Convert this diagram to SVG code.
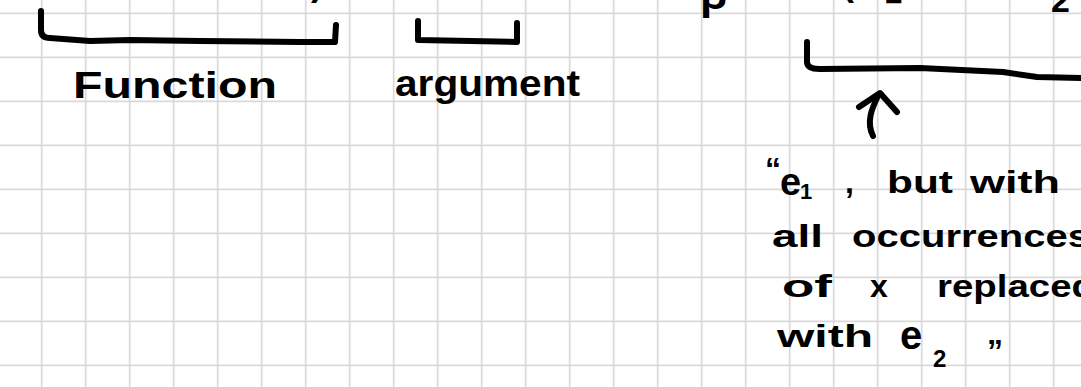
<svg xmlns="http://www.w3.org/2000/svg" width="1081" height="387" viewBox="0 0 1081 387">
<style>
.grid{stroke:#d9d9d9;stroke-width:1.7;fill:none}
.ink{stroke:#000;stroke-width:6;fill:none;stroke-linecap:round;stroke-linejoin:round}
.hw{font-family:"Liberation Sans",Arial,sans-serif;font-weight:bold;fill:#000}
</style>
<rect width="1081" height="387" fill="#fff"/>
<path class="grid" d="M41.7 0V387M85.7 0V387M129.7 0V387M173.7 0V387M217.7 0V387M261.7 0V387M305.7 0V387M349.7 0V387M393.7 0V387M437.7 0V387M481.7 0V387M525.7 0V387M569.7 0V387M613.7 0V387M657.7 0V387M701.7 0V387M745.7 0V387M789.7 0V387M833.7 0V387M877.7 0V387M921.7 0V387M965.7 0V387M1009.7 0V387M1053.7 0V387M0 13.3H1081M0 57.3H1081M0 101.3H1081M0 145.3H1081M0 189.3H1081M0 233.3H1081M0 277.3H1081M0 321.3H1081M0 365.3H1081"/>
<g id="top-fragments">
<text class="hw" x="311" y="-5" font-size="36">)</text>
<text class="hw" x="700" y="9" font-size="44">β</text>
<text class="hw" x="842" y="-5" font-size="36">(</text>
<text class="hw" x="885" y="8" font-size="30">=</text>
<text class="hw" x="1051" y="12" font-size="34">2</text>
</g>
<g id="function">
<path class="ink" d="M41 11 L41 30 Q41 38 50 38 L90 41 L130 40 L200 41 L300 42 L335 42 L336 25"/>
<text class="hw" x="73" y="98" font-size="36" textLength="204" lengthAdjust="spacingAndGlyphs">Function</text>
</g>
<g id="argument">
<path class="ink" d="M418 21 L418 40 L517 42 L517 23"/>
<text class="hw" x="395" y="96" font-size="36" textLength="185" lengthAdjust="spacingAndGlyphs">argument</text>
</g>
<g id="substitution">
<path class="ink" d="M807 42 L807 62 Q807 69 820 69 L920 68 L1003 72 L1037 77 L1085 78"/>
</g>
<g id="connectors">
<path class="ink" d="M873 136 C866 122 872 108 878 96"/>
<path class="ink" d="M859 107 L880 93 L897 112"/>
</g>
<g id="explanation" class="hw" font-size="32">
<text><tspan x="765" y="180">“</tspan><tspan x="780" y="195" font-size="38">e</tspan><tspan x="800" y="199" font-size="22">1</tspan><tspan x="845" y="193">,</tspan><tspan x="887" y="193" textLength="66" lengthAdjust="spacingAndGlyphs">but</tspan><tspan x="970" y="193" textLength="90" lengthAdjust="spacingAndGlyphs">with</tspan></text>
<text><tspan x="772" y="247" textLength="51" lengthAdjust="spacingAndGlyphs">all</tspan><tspan x="852" y="247" textLength="238" lengthAdjust="spacingAndGlyphs">occurrences</tspan></text>
<text><tspan x="782" y="297" textLength="50" lengthAdjust="spacingAndGlyphs">of</tspan><tspan x="870" y="297">x</tspan><tspan x="937" y="297" textLength="158" lengthAdjust="spacingAndGlyphs">replaced</tspan></text>
<text><tspan x="777" y="347" textLength="96" lengthAdjust="spacingAndGlyphs">with</tspan><tspan x="900" y="349" font-size="40">e</tspan><tspan x="933" y="367" font-size="24">2</tspan><tspan x="987" y="362">”</tspan></text>
</g>
</svg>
